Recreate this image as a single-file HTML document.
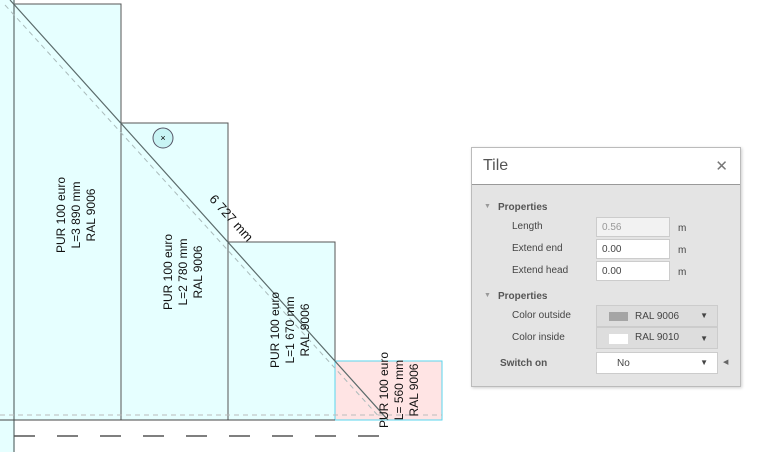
<!DOCTYPE html>
<html><head><style>
body{margin:0;width:773px;height:452px;background:#fff;position:relative;overflow:hidden;font-family:"Liberation Sans",sans-serif}
.p{position:absolute;left:471px;top:147px;width:268px;height:238px;border:1px solid #bbb;background:#e4e4e4;box-shadow:1px 1px 3px rgba(0,0,0,.2);font-size:10px;color:#444}
.h{height:36px;background:#fff;border-bottom:1px solid #999;position:relative}
.h .t{position:absolute;left:11px;top:9px;font-size:16px;color:#555}
.h .x{position:absolute;right:12px;top:9px;font-size:15px;color:#777}
.a{position:absolute;font-size:10px}
.in{position:absolute;left:124px;width:74px;height:20px;background:#fff;border:1px solid #ccc;box-sizing:border-box;padding:4px 5px;font-size:10px}
.sel{position:absolute;left:124px;width:122px;height:22px;background:#ddd;border:1px solid #ccc;box-sizing:border-box;font-size:10px}
</style></head><body>
<svg width="773" height="452" style="position:absolute;left:0;top:0">
<rect x="0" y="0" width="14" height="452" fill="#e6ffff"/>
<rect x="14" y="4" width="107" height="416" fill="#e6ffff" stroke="#555" stroke-width="1"/>
<rect x="121" y="123" width="107" height="297" fill="#e6ffff" stroke="#555"/>
<rect x="228" y="242" width="107" height="178" fill="#e6ffff" stroke="#555"/>
<rect x="335" y="361" width="107" height="59" fill="#ffe4e4" stroke="#5ad6ee"/>
<line x1="14" y1="0" x2="14" y2="452" stroke="#7a8a8a" stroke-width="1.5"/>
<line x1="0" y1="420" x2="335" y2="420" stroke="#444"/>
<line x1="0" y1="415" x2="442" y2="415" stroke="#bbb" stroke-dasharray="5,4"/>
<line x1="14" y1="436" x2="380" y2="436" stroke="#555" stroke-width="1.5" stroke-dasharray="21,22"/>
<line x1="5" y1="5" x2="382" y2="420" stroke="#aabbbb" stroke-dasharray="5,4"/>
<line x1="10" y1="0" x2="388" y2="420" stroke="#5a6a6a" stroke-width="1.2"/>
<circle cx="163" cy="138" r="10" fill="#c8f4f4" stroke="#556"/>
<text x="163" y="141" font-size="9" text-anchor="middle" font-family="Liberation Sans">×</text>
<g font-family="Liberation Sans" font-size="12" fill="#111" text-anchor="middle">
<text transform="translate(75,215) rotate(-90)"><tspan x="0" y="-10">PUR 100 euro</tspan><tspan x="0" y="5">L=3 890 mm</tspan><tspan x="0" y="20">RAL 9006</tspan></text>
<text transform="translate(182,272) rotate(-90)"><tspan x="0" y="-10">PUR 100 euro</tspan><tspan x="0" y="5">L=2 780 mm</tspan><tspan x="0" y="20">RAL 9006</tspan></text>
<text transform="translate(289,330) rotate(-90)"><tspan x="0" y="-10">PUR 100 euro</tspan><tspan x="0" y="5">L=1 670 mm</tspan><tspan x="0" y="20">RAL 9006</tspan></text>
<text transform="translate(398,390) rotate(-90)"><tspan x="0" y="-10">PUR 100 euro</tspan><tspan x="0" y="5">L= 560 mm</tspan><tspan x="0" y="20">RAL 9006</tspan></text>
<text transform="translate(228,221) rotate(48)" font-size="13">6 727 mm</text>
</g>
</svg>
<div class="p">
<div class="h"><span class="t">Tile</span><span class="x">✕</span></div>
<div class="a" style="left:12px;top:55px;font-size:7px;color:#999">▼</div>
<div class="a" style="left:26px;top:54px;font-weight:bold;color:#555">Properties</div>
<div class="a" style="left:40px;top:73px">Length</div>
<div class="in" style="top:69px;background:#f2f2f2;color:#999">0.56</div>
<div class="a" style="left:206px;top:75px">m</div>
<div class="a" style="left:40px;top:95px">Extend end</div>
<div class="in" style="top:91px">0.00</div>
<div class="a" style="left:206px;top:97px">m</div>
<div class="a" style="left:40px;top:117px">Extend head</div>
<div class="in" style="top:113px">0.00</div>
<div class="a" style="left:206px;top:119px">m</div>
<div class="a" style="left:12px;top:144px;font-size:7px;color:#999">▼</div>
<div class="a" style="left:26px;top:143px;font-weight:bold;color:#555">Properties</div>
<div class="a" style="left:40px;top:162px">Color outside</div>
<div class="sel" style="top:157px"><span style="position:absolute;left:12px;top:6px;width:19px;height:9px;background:#a5a5a5"></span><span style="position:absolute;left:38px;top:5px">RAL 9006</span><span style="position:absolute;right:9px;top:5px;font-size:8px">▼</span></div>
<div class="a" style="left:40px;top:184px">Color inside</div>
<div class="sel" style="top:179px"><span style="position:absolute;left:12px;top:6px;width:19px;height:10px;background:#fff"></span><span style="position:absolute;left:38px;top:4px">RAL 9010</span><span style="position:absolute;right:9px;top:6px;font-size:8px">▼</span></div>
<div class="a" style="left:28px;top:210px;font-weight:bold;color:#555">Switch on</div>
<div class="sel" style="top:204px;background:#fff;height:22px"><span style="position:absolute;left:20px;top:5px">No</span><span style="position:absolute;right:9px;top:5px;font-size:8px">▼</span></div>
<div class="a" style="left:251px;top:210px;font-size:7px;color:#666">◀</div>
</div>
</body></html>
